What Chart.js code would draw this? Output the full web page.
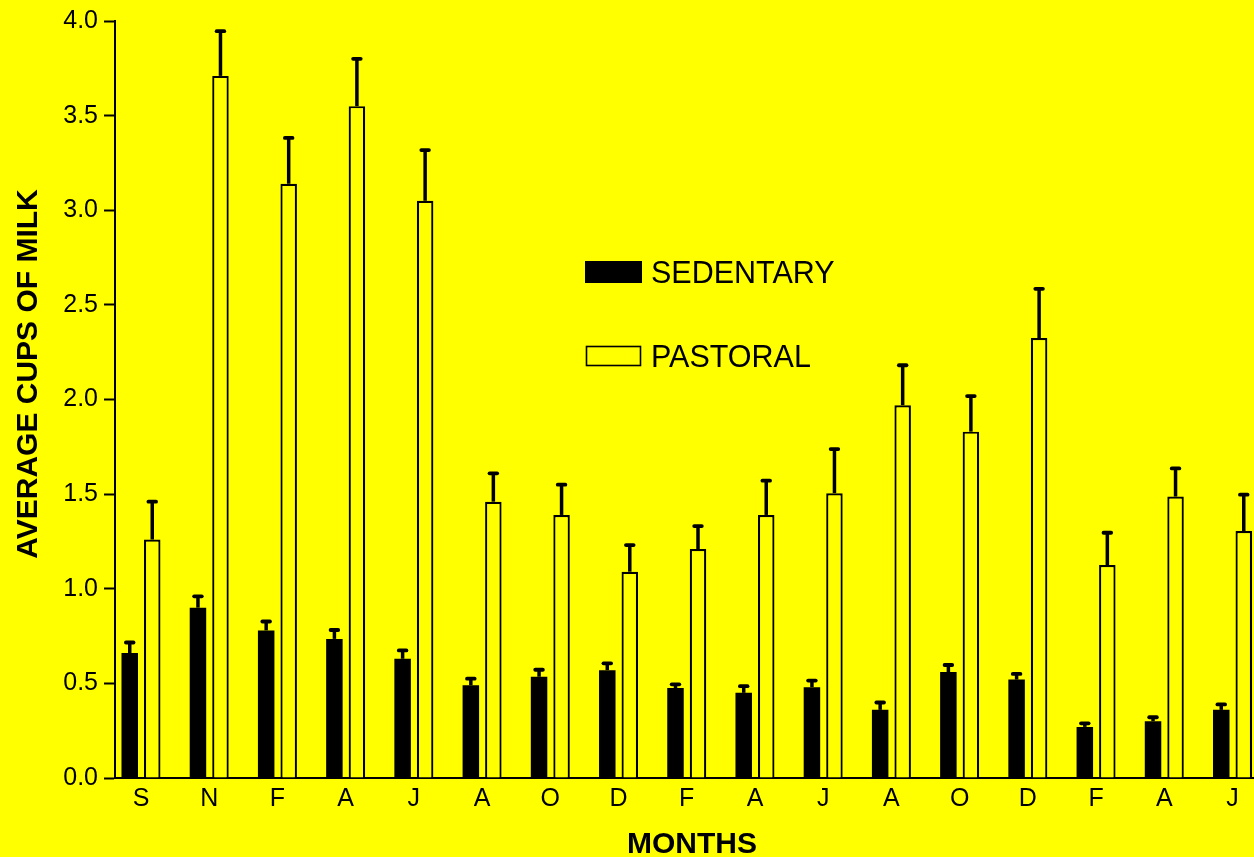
<!DOCTYPE html>
<html>
<head>
<meta charset="utf-8">
<script src="https://cdn.jsdelivr.net/npm/chart.js@4/dist/chart.umd.min.js"></script>
<style>
  html, body { margin: 0; padding: 0; background: #ffff00; overflow: hidden; }
  #wrap { width: 1254px; height: 857px; position: relative; }
</style>
</head>
<body>
<div id="wrap"><canvas id="milk" width="1254" height="857"></canvas></div>
<script>
// Month initials, one group of bars per survey month
const months = ['S', 'N', 'F', 'A', 'J', 'A', 'O', 'D', 'F', 'A', 'J', 'A', 'O', 'D', 'F', 'A', 'J'];

// Mean cups of milk per household type
const sedentary = [0.66, 0.90, 0.78, 0.735, 0.63, 0.49, 0.535, 0.57, 0.475, 0.45, 0.48, 0.36, 0.56, 0.52, 0.27, 0.30, 0.36];
const pastoral  = [1.26, 3.71, 3.14, 3.55, 3.05, 1.46, 1.39, 1.09, 1.21, 1.39, 1.505, 1.97, 1.83, 2.325, 1.125, 1.487, 1.305];

// Standard errors (drawn as upward error bars)
const sedentaryErr = [0.056, 0.06, 0.047, 0.047, 0.044, 0.035, 0.037, 0.036, 0.02, 0.035, 0.035, 0.039, 0.037, 0.03, 0.019, 0.021, 0.029];
const pastoralErr  = [0.20, 0.236, 0.242, 0.25, 0.268, 0.15, 0.16, 0.141, 0.121, 0.181, 0.233, 0.211, 0.188, 0.26, 0.171, 0.149, 0.192];

// Y axis ticks
const yTicks = [0, 0.5, 1.0, 1.5, 2.0, 2.5, 3.0, 3.5, 4.0];

const FONT = '"Liberation Sans", Arial, Helvetica, sans-serif';
const INK = '#000000';
const BG = '#ffff00';

const toPoints = arr => arr.map((v, i) => ({ x: i, y: v }));

// Upward error bars with a rounded cap
const errorBars = {
  id: 'errorBars',
  afterDatasetsDraw(chart) {
    const ctx = chart.ctx;
    const y = chart.scales.y;
    ctx.save();
    ctx.strokeStyle = INK;
    chart.data.datasets.forEach((ds, di) => {
      const meta = chart.getDatasetMeta(di);
      meta.data.forEach((bar, i) => {
        const top = y.getPixelForValue(ds.data[i].y + ds.errors[i]);
        ctx.lineWidth = 3.5;
        ctx.lineCap = 'butt';
        ctx.beginPath();
        ctx.moveTo(bar.x, bar.y);
        ctx.lineTo(bar.x, top);
        ctx.stroke();
        ctx.lineWidth = 3.8;
        ctx.lineCap = 'round';
        ctx.beginPath();
        ctx.moveTo(bar.x - 3.8, top);
        ctx.lineTo(bar.x + 3.8, top);
        ctx.stroke();
      });
    });
    ctx.restore();
  }
};

// Legend boxes placed inside the plot, plus the two axis titles
const annotations = {
  id: 'annotations',
  beforeDraw(chart) {
    const ctx = chart.ctx;
    ctx.save();
    ctx.fillStyle = BG;
    ctx.fillRect(0, 0, chart.width, chart.height);
    ctx.restore();
  },
  afterDraw(chart, args, opts) {
    const ctx = chart.ctx;
    ctx.save();
    // legend
    const rows = [
      { box: [585, 261, 57, 22], baseline: 283 },
      { box: [586.5, 346.5, 54, 19], baseline: 367 }
    ];
    chart.data.datasets.forEach((ds, i) => {
      const r = rows[i];
      ctx.fillStyle = ds.backgroundColor;
      ctx.fillRect(...r.box);
      if (ds.borderWidth) {
        ctx.strokeStyle = ds.borderColor;
        ctx.lineWidth = 1.6;
        ctx.strokeRect(...r.box);
      }
      ctx.fillStyle = INK;
      ctx.font = '30.5px ' + FONT;
      ctx.textAlign = 'left';
      ctx.textBaseline = 'alphabetic';
      ctx.fillText(ds.label, 651, r.baseline);
    });
    // axis titles
    ctx.font = 'bold 30px ' + FONT;
    ctx.textAlign = 'center';
    ctx.textBaseline = 'alphabetic';
    ctx.fillText(opts.xTitle, 692, 853);
    ctx.translate(37, 374);
    ctx.rotate(-Math.PI / 2);
    ctx.fillText(opts.yTitle, 0, 0);
    ctx.restore();
  }
};

new Chart(document.getElementById('milk'), {
  type: 'bar',
  data: {
    datasets: [
      {
        label: 'SEDENTARY',
        data: toPoints(sedentary),
        errors: sedentaryErr,
        backgroundColor: INK,
        borderWidth: 0
      },
      {
        label: 'PASTORAL',
        data: toPoints(pastoral),
        errors: pastoralErr,
        backgroundColor: BG,
        borderColor: INK,
        borderWidth: 2.2
      }
    ]
  },
  options: {
    responsive: false,
    animation: false,
    devicePixelRatio: 1,
    layout: { padding: { top: 20, left: 0, right: 0, bottom: 0 } },
    datasets: { bar: { categoryPercentage: 0.66, barPercentage: 0.733 } },
    plugins: {
      legend: { display: false },
      tooltip: { enabled: false },
      annotations: { xTitle: 'MONTHS', yTitle: 'AVERAGE CUPS OF MILK' }
    },
    scales: {
      x: {
        type: 'linear',
        offset: false,
        min: -0.381,
        max: 16.315,
        afterFit(scale) { scale.height = 79; },
        afterBuildTicks(scale) { scale.ticks = months.map((m, i) => ({ value: i })); },
        grid: { display: false, offset: false },
        border: { display: true, color: INK, width: 2 },
        ticks: {
          autoSkip: false,
          maxRotation: 0,
          padding: -2,
          color: INK,
          font: { family: FONT, size: 25 },
          callback: v => months[v] ?? ''
        }
      },
      y: {
        min: 0,
        max: 4,
        afterFit(scale) { scale.width = 115; },
        afterBuildTicks(scale) { scale.ticks = yTicks.map(v => ({ value: v })); },
        grid: {
          display: true,
          drawOnChartArea: false,
          drawTicks: true,
          tickLength: 11,
          tickWidth: 2,
          tickColor: INK,
          color: INK
        },
        border: { display: true, color: INK, width: 2 },
        ticks: {
          padding: 6,
          color: INK,
          font: { family: FONT, size: 25 },
          callback: v => v.toFixed(1)
        }
      }
    }
  },
  plugins: [errorBars, annotations]
});
</script>
</body>
</html>
